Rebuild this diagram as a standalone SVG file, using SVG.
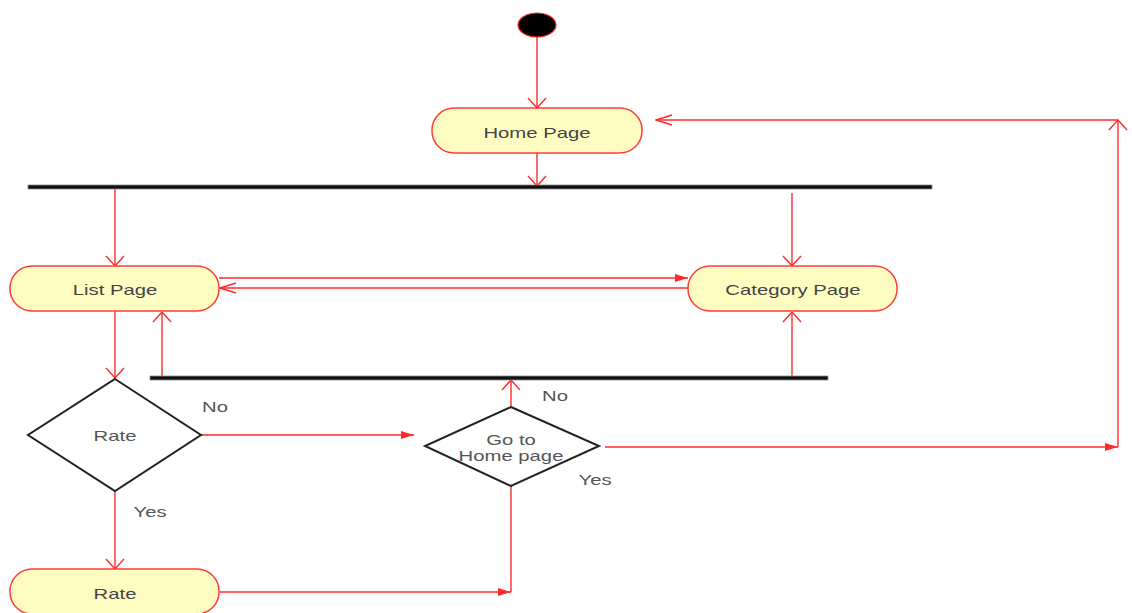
<svg xmlns="http://www.w3.org/2000/svg" width="1132" height="613" viewBox="0 0 1132 613">
<style>
.act{fill:#fffcc2;stroke:#ff3b3b;stroke-width:1.5}
.dia{fill:#ffffff;stroke:#222;stroke-width:2}
.bar{fill:#111;stroke:#888;stroke-width:0.8}
.c{fill:none;stroke:#ff2a2a;stroke-width:1.4}
.t{font-family:"Liberation Sans",Arial,sans-serif;font-size:14px;fill:#444;text-anchor:middle}
.l{font-family:"Liberation Sans",Arial,sans-serif;font-size:14px;fill:#555;text-anchor:middle}
</style>
<defs>
<marker id="ov" markerUnits="userSpaceOnUse" viewBox="-1 -10 12 20" refX="10" refY="0" markerWidth="12" markerHeight="20" orient="auto"><path d="M0,-9 L10,0 L0,9" fill="none" stroke="#ff2a2a" stroke-width="1.4"/></marker>
<marker id="oh" markerUnits="userSpaceOnUse" viewBox="-1 -6 18 12" refX="16" refY="0" markerWidth="18" markerHeight="12" orient="auto"><path d="M0,-5 L16,0 L0,5" fill="none" stroke="#ff2a2a" stroke-width="1.4"/></marker>
<marker id="fh" markerUnits="userSpaceOnUse" viewBox="0 -5 14 10" refX="13" refY="0" markerWidth="14" markerHeight="10" orient="auto"><path d="M0,-4 L13,0 L0,4 z" fill="#ff2a2a"/></marker>
</defs>

<g id="connectors">
<line class="c" x1="537" y1="37" x2="537" y2="108" marker-end="url(#ov)"/>
<line class="c" x1="537" y1="153" x2="537" y2="186" marker-end="url(#ov)"/>
<line class="c" x1="115" y1="189" x2="115" y2="266" marker-end="url(#ov)"/>
<line class="c" x1="792" y1="193" x2="792" y2="266" marker-end="url(#ov)"/>
<line class="c" x1="219" y1="278" x2="688" y2="278" marker-end="url(#fh)"/>
<line class="c" x1="688" y1="288" x2="220" y2="288" marker-end="url(#oh)"/>
<line class="c" x1="115" y1="311" x2="115" y2="378" marker-end="url(#ov)"/>
<line class="c" x1="162" y1="377" x2="162" y2="312" marker-end="url(#ov)"/>
<line class="c" x1="792" y1="377" x2="792" y2="312" marker-end="url(#ov)"/>
<line class="c" x1="201" y1="435" x2="414" y2="435" marker-end="url(#fh)"/>
<line class="c" x1="511" y1="407" x2="511" y2="380" marker-end="url(#ov)"/>
<line class="c" x1="605" y1="447" x2="1118" y2="447" marker-end="url(#fh)"/>
<line class="c" x1="1118" y1="447" x2="1118" y2="120" marker-end="url(#ov)"/>
<line class="c" x1="1118" y1="120" x2="656" y2="120" marker-end="url(#oh)"/>
<line class="c" x1="115" y1="491" x2="115" y2="569" marker-end="url(#ov)"/>
<line class="c" x1="220" y1="592" x2="511" y2="592" marker-end="url(#fh)"/>
<line class="c" x1="511" y1="486" x2="511" y2="592"/>
</g>

<g id="start"><ellipse cx="537" cy="25" rx="19" ry="12" fill="#000" stroke="#ff2a2a" stroke-width="1.2"/></g>

<g id="home-page">
<rect class="act" x="432" y="108" width="210" height="45" rx="22" ry="22"/>
<text class="t" transform="translate(537,138) scale(1.45,1)">Home Page</text>
</g>

<g id="fork-bar"><rect class="bar" x="28" y="185" width="904" height="4"/></g>

<g id="list-page">
<rect class="act" x="10" y="266" width="209" height="45" rx="22" ry="22"/>
<text class="t" transform="translate(115,295) scale(1.45,1)">List Page</text>
</g>

<g id="category-page">
<rect class="act" x="688" y="266" width="209" height="45" rx="22" ry="22"/>
<text class="t" transform="translate(793,295) scale(1.45,1)">Category Page</text>
</g>

<g id="join-bar"><rect class="bar" x="150" y="376" width="678" height="4"/></g>

<g id="rate-decision">
<polygon class="dia" points="115,379 201,435 115,491 28,435"/>
<text class="l" transform="translate(115,441) scale(1.45,1)">Rate</text>
</g>

<g id="home-decision">
<polygon class="dia" points="511,407 599,446 511,486 425,446"/>
<text class="l" transform="translate(511,445) scale(1.45,1)">Go to</text>
<text class="l" transform="translate(511,461) scale(1.45,1)">Home page</text>
</g>

<g id="rate-activity">
<rect class="act" x="10" y="569" width="209" height="45" rx="22" ry="22"/>
<text class="t" transform="translate(115,599) scale(1.45,1)">Rate</text>
</g>

<g id="labels">
<text class="l" transform="translate(215,412) scale(1.45,1)">No</text>
<text class="l" transform="translate(150,517) scale(1.45,1)">Yes</text>
<text class="l" transform="translate(555,401) scale(1.45,1)">No</text>
<text class="l" transform="translate(595,485) scale(1.45,1)">Yes</text>
</g>
</svg>
